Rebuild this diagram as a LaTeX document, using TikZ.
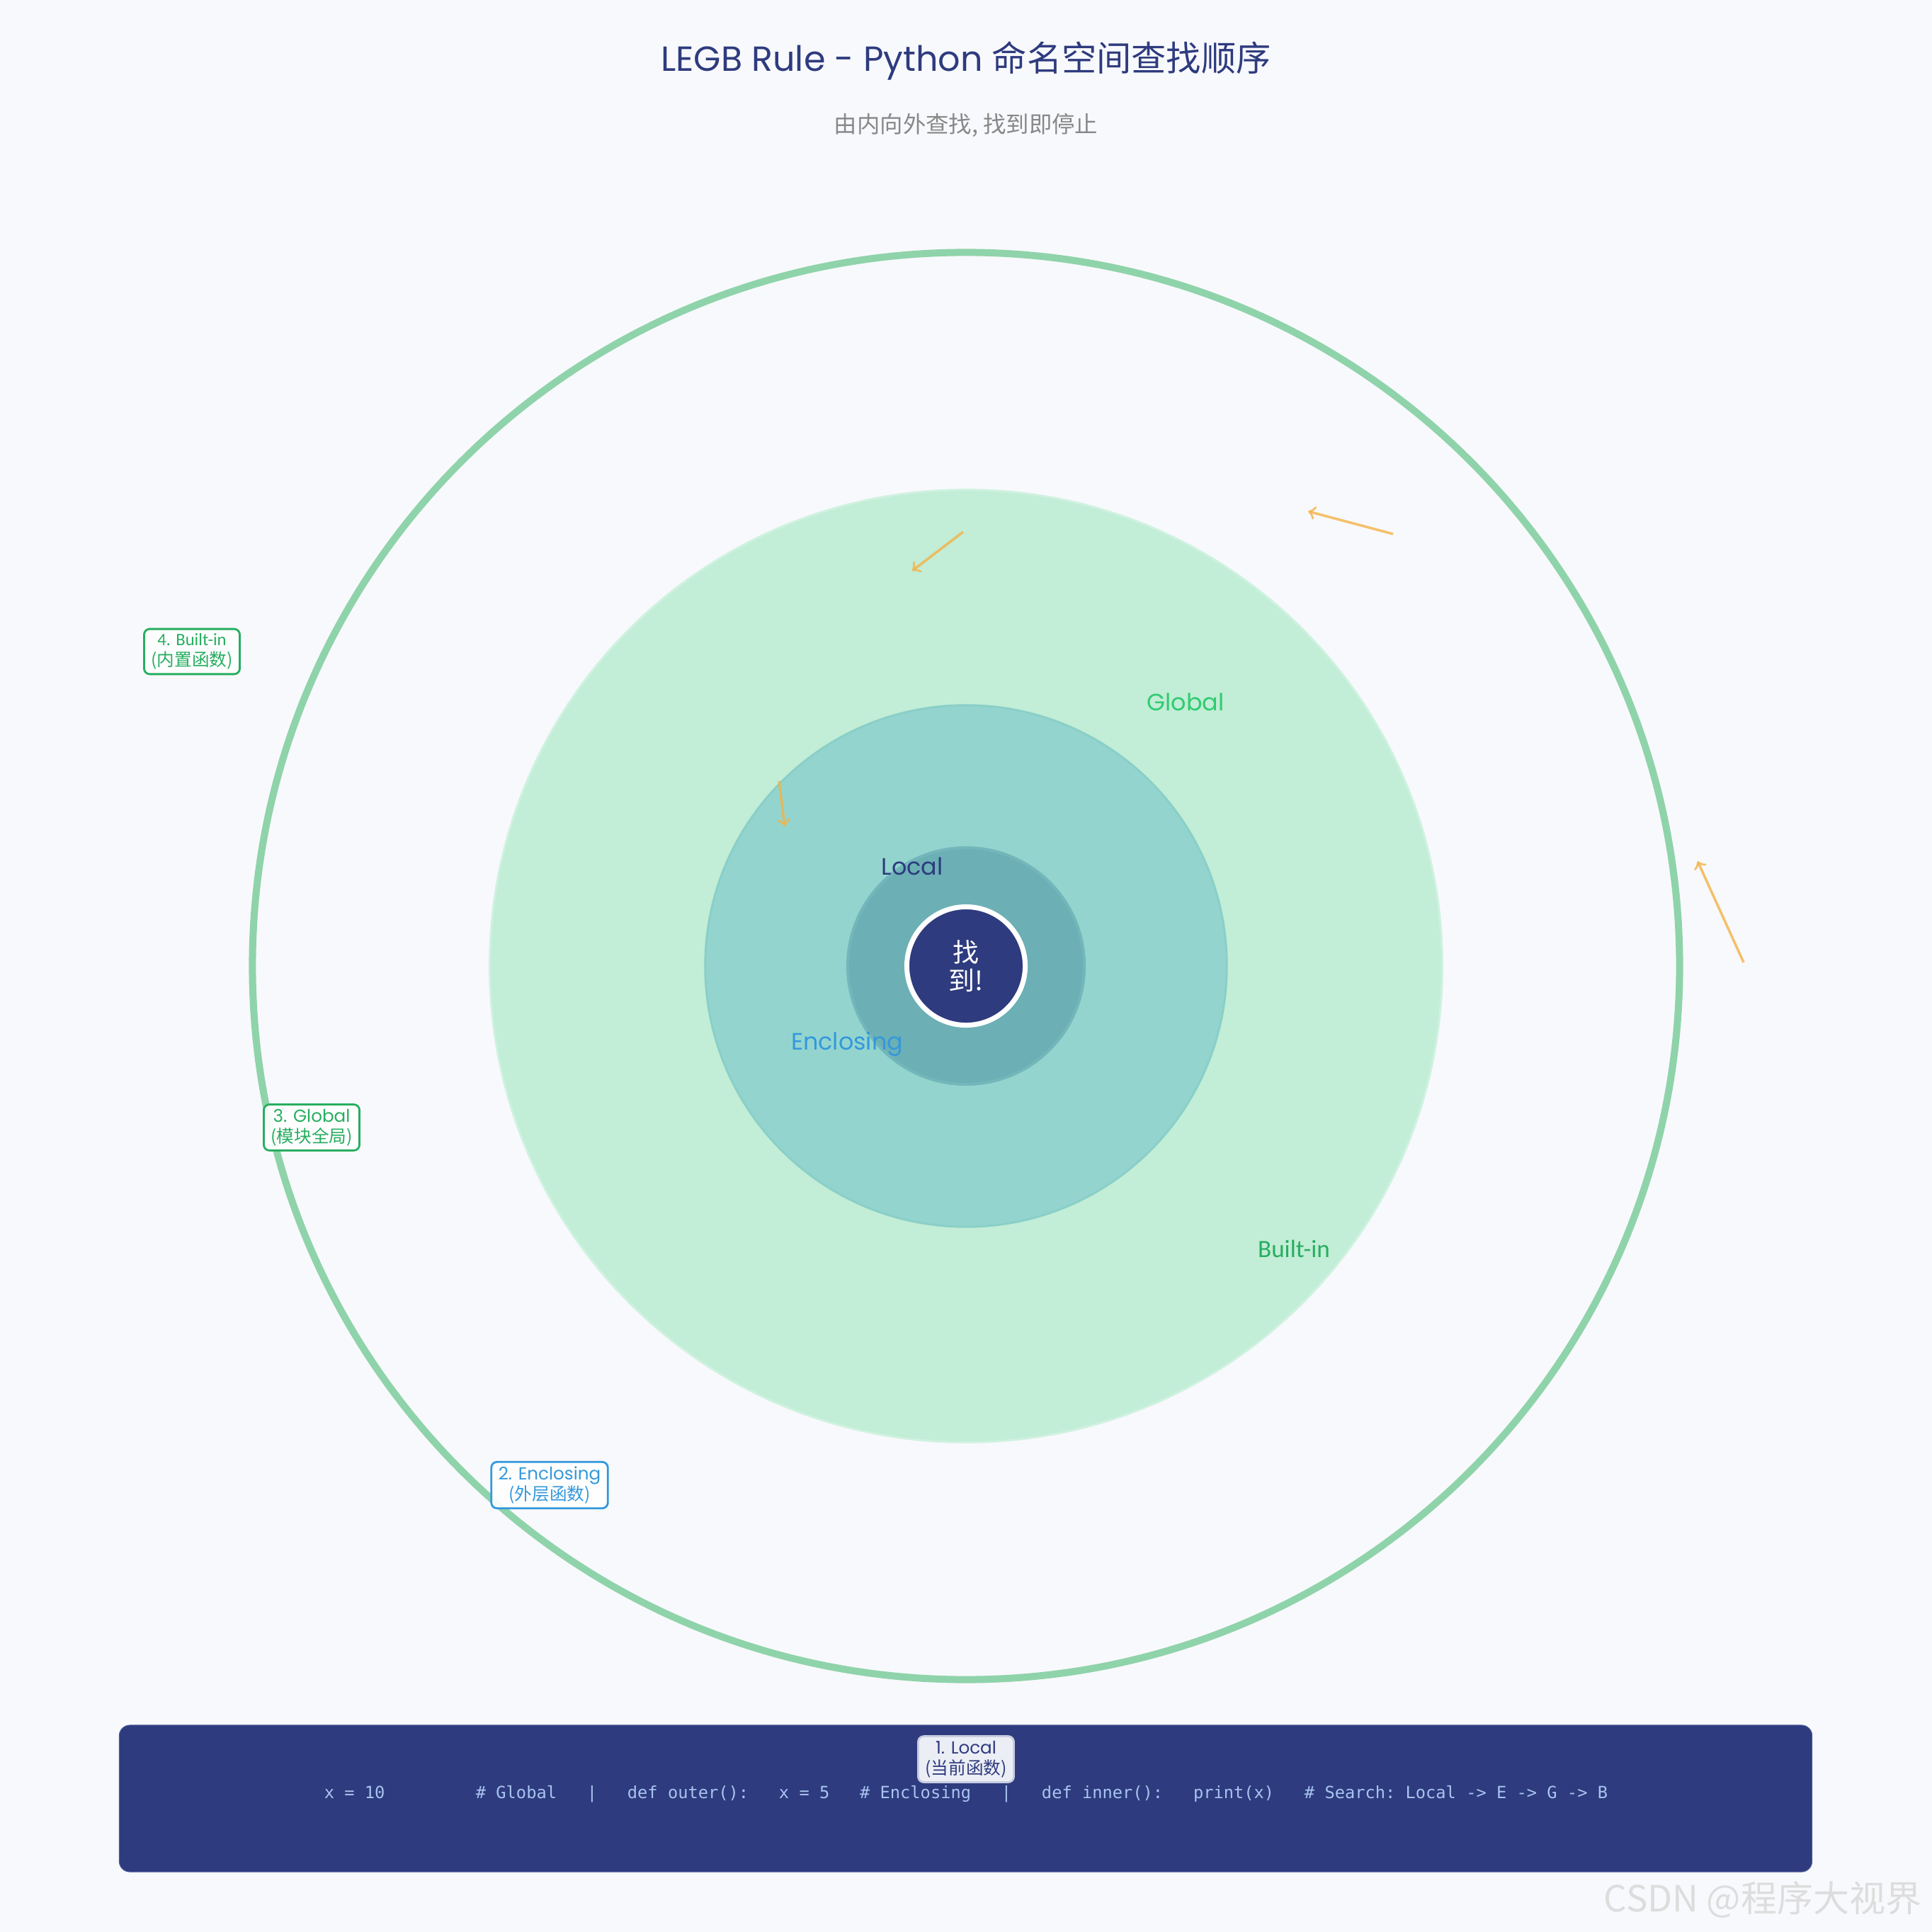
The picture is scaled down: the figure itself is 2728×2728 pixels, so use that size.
\documentclass[tikz,border=0pt]{standalone}
\usepackage{fontspec}
\setmainfont{Poppins}
\setmonofont{DejaVu Sans Mono}
\newfontfamily\cjk{Noto Sans CJK SC}
\newfontfamily\calibri{Carlito}
\usetikzlibrary{arrows}
\definecolor{bgc}{RGB}{248,249,252}
\definecolor{navy}{RGB}{46,59,126}
\definecolor{ringc}{RGB}{143,211,170}
\definecolor{globalc}{RGB}{194,237,214}
\definecolor{globalrim}{RGB}{207,242,224}
\definecolor{enclc}{RGB}{147,213,206}
\definecolor{enclrim}{RGB}{138,207,200}
\definecolor{localc}{RGB}{108,176,181}
\definecolor{localrim}{RGB}{116,183,187}
\definecolor{greenc}{RGB}{46,204,113}
\definecolor{builtc}{RGB}{39,174,96}
\definecolor{bluec}{RGB}{52,152,219}
\definecolor{hintc}{RGB}{243,178,70}
\definecolor{codec}{RGB}{168,196,240}
\definecolor{grayc}{RGB}{136,136,136}
\definecolor{markc}{RGB}{221,221,221}
\definecolor{barrim}{RGB}{80,95,160}
\definecolor{tagfill}{RGB}{236,238,245}
\definecolor{tagrim}{RGB}{200,205,225}

\begin{document}
\begin{tikzpicture}[x=0.01cm, y=-0.01cm,
 disk/.style={circle, inner sep=0pt, line width=0.03cm},
 zone/.style={anchor=base, font=\fontsize{9.5pt}{11pt}\selectfont},
 tag/.style={draw=#1, text=#1, fill=white, fill opacity=0.92, text opacity=1, line width=0.028cm, rounded corners=0.08cm, align=center, inner xsep=0.1cm, inner ysep=0.065cm, font=\fontsize{7pt}{8.2pt}\selectfont},
 hint/.style={->, draw=hintc, draw opacity=0.8, line width=0.035cm}]
 \fill[bgc] (0,0) rectangle (2728,2728);
 \useasboundingbox (0,0) rectangle (2728,2728);
 \node (title) [anchor=base, text=navy, font=\fontsize{14pt}{16pt}\selectfont] at (1364,101) {LEGB Rule - Python {\cjk 命名空间查找顺序}};
 \node (sub) [text=grayc, font=\cjk\fontsize{9.2pt}{11pt}\selectfont] at (1364,177) {由内向外查找, 找到即停止};
 \node (B) [disk, draw=ringc, line width=0.1cm, minimum size=20.14cm] at (1364,1364) {};
 \node (G) [disk, fill=globalc, draw=globalrim, minimum size=13.44cm] at (1364,1364) {};
 \node (E) [disk, fill=enclc, draw=enclrim, minimum size=7.36cm] at (1364,1364) {};
 \node (L) [disk, fill=localc, draw=localrim, line width=0.04cm, minimum size=3.34cm] at (1364,1364) {};
 \node (hit) [disk, fill=navy, draw=white, line width=0.07cm, minimum size=1.67cm, text=white, align=center, font=\cjk\fontsize{10.5pt}{11.4pt}\selectfont] at (1364,1364) {找\\到!};
 \node (lL) [zone, text=navy] at (1288,1235) {Local};
 \node (lG) [zone, text=greenc] at (1674,1003) {Global};
 \node (lE) [zone, text=bluec] at (1196,1482) {Enclosing};
 \node (lB) [zone, text=builtc, font=\calibri\fontsize{10pt}{11pt}\selectfont] at (1827,1775) {Built-in};
 \coordinate (h1a) at (1360,751);
 \coordinate (h1b) at (1288,806);
 \coordinate (h2a) at (1967,754);
 \coordinate (h2b) at (1847,722);
 \coordinate (h3a) at (1100,1103);
 \coordinate (h3b) at (1108,1167);
 \coordinate (h4a) at (2462,1359);
 \coordinate (h4b) at (2397,1216);
 \draw[hint] (h1a) -- (h1b);
 \draw[hint] (h2a) -- (h2b);
 \draw[hint] (h3a) -- (h3b);
 \draw[hint] (h4a) -- (h4b);
 \node (t4) [tag=builtc] at (271,920) {{\calibri 4. Built-in}\\{\cjk (内置函数)}};
 \node (t3) [tag=builtc] at (440,1592) {3. Global\\{\cjk (模块全局)}};
 \node (t2) [tag=bluec] at (776,2097) {2. Enclosing\\{\cjk (外层函数)}};
 \node (bar) [fill=navy, draw=barrim, line width=0.01cm, rounded corners=0.15cm, minimum width=23.89cm, minimum height=2.07cm, inner sep=0pt] at (1363.5,2539.5) {};
 \node (code) [text=codec, font=\ttfamily\fontsize{6.74pt}{8pt}\selectfont] at (1364,2533) {x = 10~~~~~~~~~\#~Global~~~|~~~def outer():~~~x = 5~~~\#~Enclosing~~~|~~~def inner():~~~print(x)~~~\#~Search: Local -> E -> G -> B};
 \node (t1) [tag=navy, draw=tagrim, fill=tagfill, fill opacity=1] at (1364,2484) {1. Local\\{\cjk (当前函数)}};
 \node (mark) [text=markc, font=\cjk\fontsize{14.5pt}{16pt}\selectfont] at (2489,2682) {CSDN @程序大视界};
\end{tikzpicture}
\end{document}
